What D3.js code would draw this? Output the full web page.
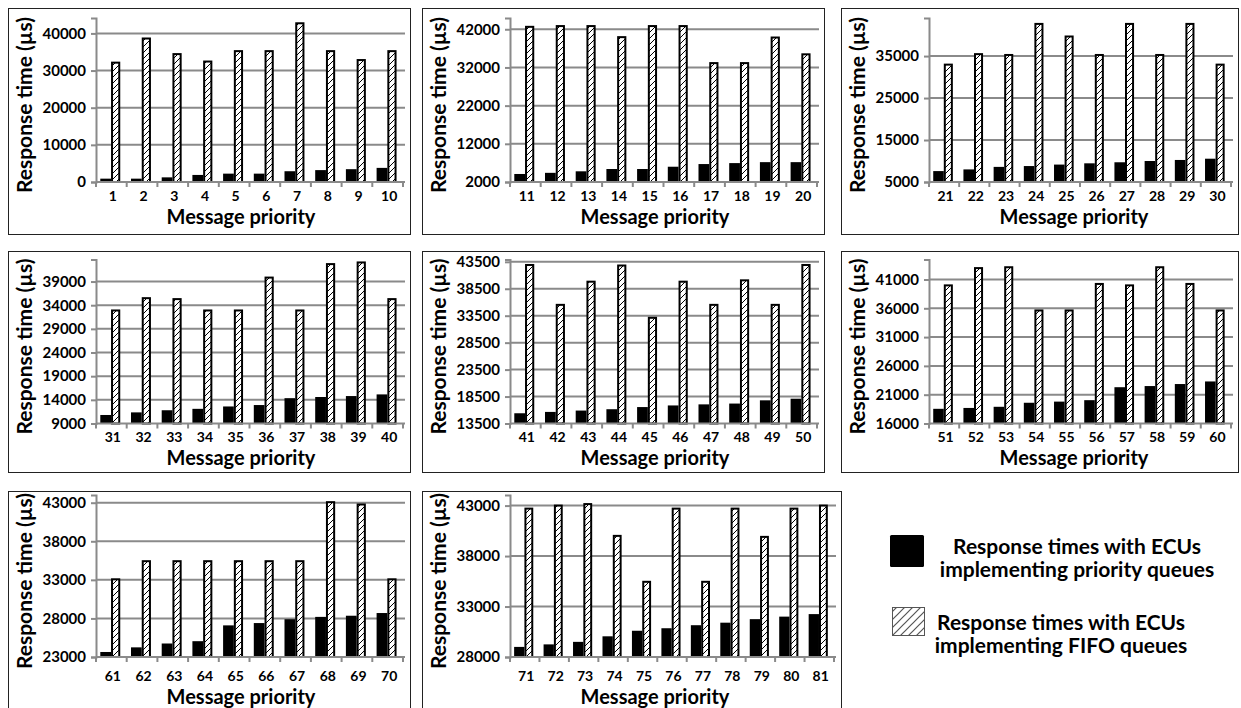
<!DOCTYPE html>
<html>
<head>
<meta charset="utf-8">
<script src="https://cdn.jsdelivr.net/npm/d3@7"></script>
<style>
  body { margin: 0; background: #fff; }
  text { font-family: Lato, 'Open Sans', sans-serif; font-weight: bold; fill: #000; }
</style>
</head>
<body>
<svg id="svg" width="1241" height="708"></svg>
<script>
/*********************
 * Data
 *********************/
const priorities = [
  [1, 2, 3, 4, 5, 6, 7, 8, 9, 10],
  [11, 12, 13, 14, 15, 16, 17, 18, 19, 20],
  [21, 22, 23, 24, 25, 26, 27, 28, 29, 30],
  [31, 32, 33, 34, 35, 36, 37, 38, 39, 40],
  [41, 42, 43, 44, 45, 46, 47, 48, 49, 50],
  [51, 52, 53, 54, 55, 56, 57, 58, 59, 60],
  [61, 62, 63, 64, 65, 66, 67, 68, 69, 70],
  [71, 72, 73, 74, 75, 76, 77, 78, 79, 80, 81]
];

// response times (µs) with ECUs implementing priority queues
const priorityQueueTimes = [
  [900, 900, 1250, 1900, 2250, 2250, 2900, 3200, 3450, 3800],
  [4100, 4400, 4800, 5400, 5400, 6000, 6700, 6950, 7200, 7200],
  [7600, 8000, 8600, 8800, 9150, 9450, 9700, 10000, 10250, 10550],
  [10800, 11350, 11800, 12100, 12600, 12900, 14350, 14600, 14800, 15150],
  [15400, 15650, 15900, 16150, 16550, 16850, 17050, 17200, 17800, 18100],
  [18550, 18700, 18900, 19600, 19800, 20050, 22300, 22500, 22850, 23300],
  [23650, 24250, 24750, 25050, 27100, 27400, 27900, 28200, 28350, 28700],
  [29000, 29250, 29500, 30050, 30600, 30850, 31150, 31400, 31750, 32000, 32250]
];

// response times (µs) with ECUs implementing FIFO queues
const fifoQueueTimes = [
  [32400, 38900, 34700, 32700, 35500, 35500, 43000, 35500, 33100, 35500],
  [42900, 43100, 43100, 40200, 43100, 43100, 33400, 33400, 40100, 35700],
  [33200, 35700, 35500, 42900, 39900, 35500, 42900, 35500, 42900, 33200],
  [33100, 35700, 35500, 33100, 33100, 40050, 33100, 42900, 43250, 35500],
  [43100, 35700, 40000, 43000, 33300, 40000, 35700, 40250, 35700, 43100],
  [40150, 43150, 43300, 35800, 35800, 40400, 40150, 43300, 40400, 35800],
  [33200, 35550, 35550, 35550, 35550, 35550, 35550, 43200, 42900, 33200],
  [42800, 43100, 43250, 40100, 35550, 42800, 35550, 42800, 40000, 42800, 43100]
];

const yTicks = [
  [0, 10000, 20000, 30000, 40000],
  [2000, 12000, 22000, 32000, 42000],
  [5000, 15000, 25000, 35000],
  [9000, 14000, 19000, 24000, 29000, 34000, 39000],
  [13500, 18500, 23500, 28500, 33500, 38500, 43500],
  [16000, 21000, 26000, 31000, 36000, 41000],
  [23000, 28000, 33000, 38000, 43000],
  [28000, 33000, 38000, 43000]
];

// axis top value of each panel
const yMax = [44150, 44950, 44070, 43660, 43930, 44470, 44000, 44050];

const legendLabels = [
  ['Response times with ECUs', 'implementing priority queues'],
  ['Response times with ECUs', 'implementing FIFO queues']
];

/*********************
 * Layout
 *********************/
const cols = [[8, 410], [422, 824], [841, 1238]];
const rows = [
  {y0: 8, y1: 234, top: 10, base: 174, tickDy: 18.5, titleDy: 41.5},
  {y0: 251, y1: 472, top: 8.5, base: 172.5, tickDy: 18, titleDy: 41},
  {y0: 491, y1: 712, top: 4, base: 166, tickDy: 23.5, titleDy: 46.5}
];
const gridColor = '#8a8a8a';

const svg = d3.select('#svg');
svg.append('rect').attr('width', 1241).attr('height', 708).attr('fill', '#fff');

const defs = svg.append('defs');
const hatch = defs.append('pattern')
  .attr('id', 'hatch')
  .attr('patternUnits', 'userSpaceOnUse')
  .attr('width', 6).attr('height', 6);
hatch.append('rect').attr('width', 6).attr('height', 6).attr('fill', '#fff');
hatch.append('path')
  .attr('d', 'M0,6 L6,0 M-1,1 L1,-1 M5,7 L7,5')
  .attr('stroke', '#000').attr('stroke-width', 1);

const legendHatch = defs.append('pattern')
  .attr('id', 'hatchLegend')
  .attr('patternUnits', 'userSpaceOnUse')
  .attr('width', 8).attr('height', 8);
legendHatch.append('rect').attr('width', 8).attr('height', 8).attr('fill', '#fff');
legendHatch.append('path')
  .attr('d', 'M0,8 L8,0 M-1,1 L1,-1 M7,9 L9,7')
  .attr('stroke', '#555').attr('stroke-width', 1.2);

/*********************
 * Panels
 *********************/
function drawPanel(i) {
  const row = rows[Math.floor(i / 3)];
  let [x0, x1] = cols[i % 3];
  if (i === 7) x1 = 841; // last panel has one more bar
  const g = svg.append('g').attr('transform', `translate(${x0},${row.y0})`);
  const w = x1 - x0, h = row.y1 - row.y0;

  g.append('rect')
    .attr('x', 0.5).attr('y', 0.5)
    .attr('width', w).attr('height', h)
    .attr('fill', 'none').attr('stroke', '#222').attr('stroke-width', 1);

  const left = 88, right = w - 7;
  const x = d3.scaleBand().domain(priorities[i]).range([left, right]);
  const y = d3.scaleLinear().domain([yTicks[i][0], yMax[i]]).range([row.base, row.top]);
  const bw = x.bandwidth();

  // gridlines
  g.append('g').selectAll('line')
    .data(yTicks[i].slice(1))
    .enter().append('line')
    .attr('x1', left).attr('x2', right + 2)
    .attr('y1', d => y(d)).attr('y2', d => y(d))
    .attr('stroke', gridColor).attr('stroke-width', 2);

  // y axis
  const yAxis = g.append('g')
    .attr('transform', `translate(${left},0)`)
    .call(d3.axisLeft(y).tickValues(yTicks[i]).tickSize(5).tickPadding(5).tickFormat(d3.format('d')));
  yAxis.select('.domain').attr('stroke', gridColor).attr('stroke-width', 2);
  yAxis.selectAll('.tick line').attr('stroke', gridColor).attr('stroke-width', 2);
  yAxis.selectAll('.tick text').style('font-size', '15px').attr('fill', '#000');

  // bars
  const bars = g.append('g');
  bars.selectAll('.pq')
    .data(priorities[i])
    .enter().append('rect')
    .attr('class', 'pq')
    .attr('x', d => x(d) + bw * 0.14)
    .attr('width', bw * 0.35)
    .attr('y', (d, j) => y(priorityQueueTimes[i][j]))
    .attr('height', (d, j) => row.base - y(priorityQueueTimes[i][j]))
    .attr('fill', '#000');
  bars.selectAll('.fifo')
    .data(priorities[i])
    .enter().append('rect')
    .attr('class', 'fifo')
    .attr('x', d => x(d) + bw * 0.49 + 1)
    .attr('width', bw * 0.30 - 2)
    .attr('y', (d, j) => y(fifoQueueTimes[i][j]) + 1)
    .attr('height', (d, j) => row.base - y(fifoQueueTimes[i][j]) - 1)
    .attr('fill', 'url(#hatch)')
    .attr('stroke', '#000').attr('stroke-width', 2);

  // x axis
  g.append('line')
    .attr('x1', left).attr('x2', right + 2)
    .attr('y1', row.base).attr('y2', row.base)
    .attr('stroke', gridColor).attr('stroke-width', 2);
  const bounds = priorities[i].map(d => x(d)).concat([right]);
  g.append('g').selectAll('line')
    .data(bounds)
    .enter().append('line')
    .attr('x1', d => d).attr('x2', d => d)
    .attr('y1', row.base).attr('y2', row.base + 5)
    .attr('stroke', gridColor).attr('stroke-width', 2);
  g.append('g').selectAll('text')
    .data(priorities[i])
    .enter().append('text')
    .attr('x', d => x(d) + bw * 0.55)
    .attr('y', row.base + row.tickDy)
    .attr('text-anchor', 'middle')
    .style('font-size', '14px')
    .text(d => d);

  // axis titles
  g.append('text')
    .attr('x', 233)
    .attr('y', row.base + row.titleDy)
    .attr('text-anchor', 'middle')
    .style('font-size', '20px')
    .text('Message priority');
  g.append('text')
    .attr('transform', `translate(24,${(row.top + row.base) / 2 + 5}) rotate(-90)`)
    .attr('text-anchor', 'middle')
    .style('font-size', '21px')
    .text('Response time (µs)');
}

d3.range(8).forEach(drawPanel);

/*********************
 * Legend
 *********************/
const legend = svg.append('g');
legend.append('rect')
  .attr('x', 890).attr('y', 535).attr('width', 34).attr('height', 32)
  .attr('rx', 1.5).attr('fill', '#000');
legend.append('rect')
  .attr('x', 892.5).attr('y', 607.5).attr('width', 32).attr('height', 28)
  .attr('fill', 'url(#hatchLegend)').attr('stroke', '#555').attr('stroke-width', 1);

const legendCenters = [[1077, 547], [1061, 623]];
legendLabels.forEach((lines, k) => {
  const t = legend.append('text')
    .attr('text-anchor', 'middle')
    .style('font-size', '21px');
  lines.forEach((s, j) => {
    t.append('tspan')
      .attr('x', legendCenters[k][0])
      .attr('y', legendCenters[k][1] + 7 + j * 23)
      .text(s);
  });
});
</script>
</body>
</html>
